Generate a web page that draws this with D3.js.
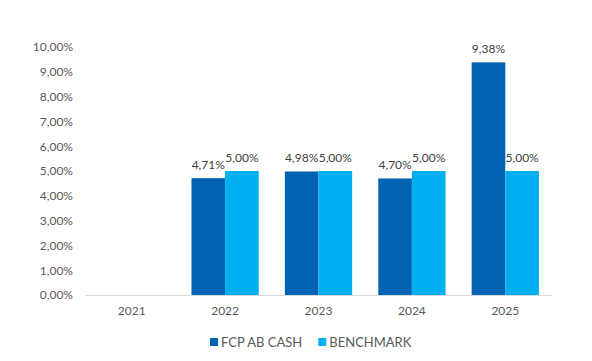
<!DOCTYPE html>
<html>
<head>
<meta charset="utf-8">
<script src="https://cdn.jsdelivr.net/npm/d3@7"></script>
<style>
  body { margin: 0; background: #fff; }
  svg text { font-family: Lato, "Open Sans", sans-serif; }
</style>
</head>
<body>
<svg id="chart"></svg>
<script>
// data
const years = ["2021", "2022", "2023", "2024", "2025"];
const seriesNames = ["FCP AB CASH", "BENCHMARK"];
const fcp = [null, 4.71, 4.98, 4.70, 9.38];
const benchmark = [null, 5.00, 5.00, 5.00, 5.00];
const yTicks = [0, 1, 2, 3, 4, 5, 6, 7, 8, 9, 10];
const colors = ["#0063b1", "#00b0f0"];

const width = 592, height = 361;
const margin = { top: 47, right: 40, bottom: 66, left: 85 };

const svg = d3.select("#chart")
  .attr("width", width)
  .attr("height", height);

const fmt = v => d3.format(".2f")(v).replace(".", ",") + "%";

const x = d3.scaleBand()
  .domain(years)
  .range([margin.left, width - margin.right])
  .padding(0);

const groupW = x.bandwidth() * 0.72;
const xs = d3.scaleBand()
  .domain(seriesNames)
  .range([0, groupW]);

const y = d3.scaleLinear()
  .domain([0, 10])
  .range([height - margin.bottom, margin.top]);

// y labels
const yAxis = d3.axisLeft(y)
  .tickValues(yTicks)
  .tickSize(0)
  .tickPadding(12)
  .tickFormat(fmt);

const gy = svg.append("g")
  .attr("transform", `translate(${margin.left},0)`)
  .call(yAxis);
gy.select(".domain").remove();
gy.selectAll("text")
  .attr("fill", "#595959")
  .style("font-size", "12px");

// bars
const rows = years.map((yr, i) => ({
  year: yr,
  vals: [fcp[i], benchmark[i]]
}));

const groups = svg.append("g")
  .selectAll("g")
  .data(rows)
  .join("g")
  .attr("transform", d => `translate(${x(d.year) + (x.bandwidth() - groupW) / 2},0)`);

groups.selectAll("rect")
  .data(d => d.vals.map((v, j) => ({ v, s: seriesNames[j], j })).filter(e => e.v != null))
  .join("rect")
  .attr("x", e => xs(e.s))
  .attr("width", xs.bandwidth())
  .attr("y", e => y(e.v))
  .attr("height", e => y(0) - y(e.v))
  .attr("fill", e => colors[e.j]);

groups.selectAll("text")
  .data(d => d.vals.map((v, j) => ({ v, s: seriesNames[j], j })).filter(e => e.v != null))
  .join("text")
  .attr("x", e => xs(e.s) + xs.bandwidth() / 2)
  .attr("y", e => y(e.v) - 9)
  .attr("text-anchor", "middle")
  .attr("fill", "#404040")
  .style("font-size", "12px")
  .text(e => fmt(e.v));

// x axis
const xAxis = d3.axisBottom(x).tickSize(0).tickPadding(11);
const gx = svg.append("g")
  .attr("transform", `translate(0,${y(0)})`)
  .call(xAxis);
gx.select(".domain").attr("stroke", "#d9d9d9").attr("stroke-width", 1);
gx.selectAll("text")
  .attr("fill", "#595959")
  .style("font-size", "12px");

// legend, entries laid out from measured text widths
const leg = svg.append("g");
let lx = 210;
seriesNames.forEach((name, i) => {
  const g = leg.append("g").attr("transform", `translate(${lx},342)`);
  g.append("rect")
    .attr("x", 0).attr("y", -4)
    .attr("width", 8).attr("height", 8)
    .attr("fill", colors[i]);
  const t = g.append("text")
    .attr("x", 11).attr("y", 4.5)
    .attr("fill", "#595959")
    .style("font-size", "13px")
    .text(name);
  lx += 11 + t.node().getComputedTextLength() + 16;
});
</script>
</body>
</html>
